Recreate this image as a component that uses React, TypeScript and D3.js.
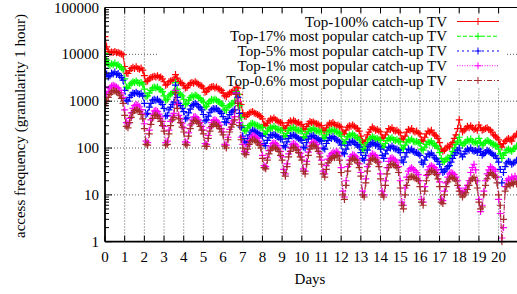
import React from "react";
import * as d3 from "d3";

const SAMPLE_STEP_HOURS = 2;
const DAY_TICKS = [0, 1, 2, 3, 4, 5, 6, 7, 8, 9, 10, 11, 12, 13, 14, 15, 16, 17, 18, 19, 20];
const Y_TICKS = [1, 10, 100, 1000, 10000, 100000];
const Y_TICK_LABELS = ["1", "10", "100", "1000", "10000", "100000"];

const SERIES_NAMES = [
  "Top-100% catch-up TV",
  "Top-17% most popular catch-up TV",
  "Top-5% most popular catch-up TV",
  "Top-1% most popular catch-up TV",
  "Top-0.6% most popular catch-up TV",
];

const TOP100 = [
  24000, 14500, 11500, 10800, 11200, 11000, 11500, 10800, 11000, 10500, 10200, 9800,
  5500, 4000, 3900, 4500, 5000, 5300, 5000, 5400, 5000, 4800, 5100, 4600,
  3500, 2600, 2700, 3000, 3200, 3300, 3400, 3300, 3500, 3200, 3300, 3000,
  2600, 2200, 2300, 2600, 2700, 2800, 2900, 3700, 3100, 2600, 2500, 2400,
  2200, 1900, 1950, 2200, 2400, 2500, 2400, 2600, 2450, 2300, 2200, 2100,
  1900, 1550, 1600, 1800, 1950, 2000, 2050, 1900, 2000, 1850, 1800, 1700,
  1500, 1300, 1250, 1400, 1500, 1550, 1600, 1700, 2000, 1900, 1400, 850,
  560, 480, 470, 520, 560, 580, 600, 560, 540, 520, 500, 470,
  420, 320, 300, 340, 380, 420, 400, 440, 400, 380, 360, 350,
  340, 270, 260, 300, 350, 380, 360, 390, 370, 340, 350, 320,
  320, 260, 250, 290, 330, 370, 350, 360, 340, 330, 320, 300,
  300, 240, 230, 270, 310, 340, 330, 350, 320, 300, 310, 290,
  280, 220, 200, 240, 280, 300, 290, 310, 290, 270, 260, 230,
  180, 140, 130, 150, 190, 220, 250, 280, 260, 240, 250, 230,
  220, 170, 160, 190, 220, 260, 250, 270, 240, 230, 240, 220,
  210, 160, 150, 180, 220, 250, 240, 260, 230, 220, 230, 210,
  200, 150, 140, 170, 200, 230, 220, 240, 210, 190, 180, 160,
  130, 95, 85, 90, 100, 110, 105, 120, 130, 160, 190, 260,
  400, 260, 220, 240, 260, 290, 270, 300, 270, 250, 260, 240,
  310, 270, 240, 250, 260, 270, 250, 240, 220, 190, 180, 165,
  150, 120, 105, 125, 140, 150, 160, 150, 140, 170, 180, 200,
];

const TOP17 = [
  10500, 7500, 6200, 5800, 6300, 6000, 6500, 5800, 6000, 5500, 5200, 4800,
  3000, 2000, 1900, 2200, 2400, 2600, 2500, 2700, 2500, 2400, 2500, 2300,
  1800, 1250, 1300, 1500, 1700, 1900, 2000, 1900, 2000, 1800, 1750, 1600,
  1300, 1050, 1100, 1300, 1400, 1500, 1600, 2500, 1800, 1500, 1400, 1300,
  1100, 850, 900, 1050, 1200, 1300, 1250, 1350, 1300, 1200, 1150, 1050,
  950, 750, 780, 900, 1000, 1100, 1050, 1100, 1050, 980, 950, 880,
  800, 650, 640, 750, 820, 880, 900, 1000, 1600, 1400, 800, 450,
  300, 240, 230, 270, 300, 330, 340, 320, 310, 300, 290, 270,
  275, 205, 195, 230, 255, 275, 265, 290, 265, 255, 250, 240,
  240, 185, 175, 205, 240, 265, 255, 275, 255, 240, 240, 230,
  230, 175, 165, 200, 230, 255, 240, 265, 240, 230, 230, 220,
  220, 165, 160, 190, 220, 240, 230, 245, 230, 220, 220, 205,
  180, 135, 125, 150, 175, 190, 185, 200, 185, 170, 165, 150,
  120, 95, 90, 110, 130, 150, 160, 175, 165, 155, 160, 150,
  145, 110, 105, 125, 145, 160, 155, 165, 150, 145, 150, 140,
  135, 100, 95, 115, 135, 150, 145, 155, 140, 135, 140, 130,
  125, 95, 90, 105, 120, 135, 130, 140, 125, 115, 110, 100,
  80, 60, 50, 52, 58, 62, 60, 70, 85, 100, 120, 140,
  170, 130, 115, 125, 135, 150, 140, 155, 140, 130, 135, 125,
  160, 130, 115, 125, 135, 145, 140, 130, 125, 120, 115, 110,
  95, 75, 60, 70, 80, 90, 95, 90, 85, 95, 100, 110,
];

const TOP5 = [
  5000, 3800, 3300, 3500, 4000, 3800, 4200, 3700, 3900, 3500, 3200, 2800,
  1700, 1050, 1000, 1200, 1350, 1500, 1450, 1550, 1450, 1400, 1450, 1300,
  900, 520, 550, 750, 900, 1050, 1100, 1050, 1100, 1000, 950, 850,
  700, 480, 500, 650, 750, 850, 950, 2200, 1200, 900, 800, 700,
  600, 420, 440, 560, 680, 800, 850, 900, 850, 780, 720, 650,
  520, 380, 400, 480, 580, 650, 700, 680, 700, 640, 600, 550,
  470, 360, 350, 430, 520, 580, 620, 650, 1500, 1200, 550, 280,
  180, 140, 130, 160, 190, 220, 240, 230, 220, 210, 200, 185,
  180, 125, 112, 145, 170, 190, 185, 195, 185, 175, 170, 155,
  155, 112, 105, 135, 160, 185, 180, 190, 180, 170, 160, 150,
  145, 105, 100, 130, 155, 180, 175, 185, 170, 160, 155, 145,
  140, 100, 95, 125, 145, 170, 160, 175, 160, 150, 145, 135,
  115, 80, 75, 95, 115, 135, 130, 140, 130, 120, 115, 105,
  80, 60, 55, 70, 90, 110, 120, 130, 125, 115, 120, 110,
  95, 70, 60, 75, 90, 105, 100, 110, 100, 95, 95, 90,
  80, 55, 50, 65, 80, 95, 90, 95, 85, 80, 80, 75,
  70, 50, 45, 55, 65, 75, 72, 78, 70, 62, 58, 52,
  45, 35, 30, 32, 36, 40, 42, 50, 60, 70, 80, 90,
  100, 75, 65, 75, 85, 95, 90, 100, 90, 85, 88, 80,
  95, 85, 70, 75, 80, 90, 85, 80, 75, 70, 68, 60,
  50, 35, 18, 30, 40, 48, 52, 50, 45, 48, 50, 55,
];

const TOP1 = [
  2000, 1400, 1600, 1900, 2100, 2200, 2100, 2000, 1900, 1700, 1500, 1200,
  650, 350, 330, 430, 560, 700, 800, 850, 820, 760, 660, 530,
  330, 140, 130, 240, 400, 530, 620, 640, 600, 530, 460, 370,
  290, 130, 140, 240, 370, 480, 550, 1700, 850, 500, 430, 340,
  270, 135, 130, 210, 310, 400, 460, 470, 440, 400, 350, 290,
  240, 125, 120, 185, 270, 350, 390, 400, 380, 350, 310, 260,
  220, 120, 115, 170, 250, 330, 380, 470, 1500, 1000, 350, 170,
  120, 85, 80, 110, 145, 170, 185, 180, 170, 160, 140, 120,
  70, 42, 40, 62, 88, 110, 125, 130, 125, 115, 100, 85,
  65, 35, 28, 46, 75, 100, 120, 125, 120, 110, 95, 78,
  65, 36, 32, 52, 82, 110, 130, 135, 130, 120, 100, 78,
  55, 32, 28, 42, 58, 68, 75, 80, 78, 85, 82, 68,
  38, 12, 9, 20, 40, 55, 66, 72, 70, 65, 58, 46,
  30, 12, 10, 22, 40, 56, 68, 75, 72, 68, 62, 50,
  28, 12, 10, 20, 38, 52, 60, 62, 58, 55, 50, 40,
  20, 7, 6, 14, 24, 32, 36, 38, 35, 33, 30, 27,
  20, 8, 7, 15, 26, 34, 40, 42, 40, 38, 34, 28,
  19, 8, 7.5, 12, 18, 24, 28, 30, 29, 27, 24, 20,
  14, 12, 11, 12, 14, 16, 20, 30, 38, 45, 34, 20,
  8, 4.4, 6, 12, 20, 28, 34, 40, 38, 35, 32, 24,
  8, 4, 1.2, 2, 15, 20, 22, 21, 24, 22, 25, 22,
];

const TOP06 = [
  800, 1000, 1200, 1400, 1550, 1700, 1650, 1600, 1500, 1350, 1150, 900,
  500, 290, 270, 350, 450, 560, 630, 660, 640, 600, 520, 420,
  260, 120, 115, 200, 320, 430, 500, 510, 480, 430, 370, 300,
  230, 115, 120, 200, 300, 400, 450, 1500, 700, 420, 350, 280,
  220, 120, 115, 180, 260, 330, 380, 390, 370, 340, 290, 240,
  200, 110, 108, 160, 230, 290, 320, 330, 310, 290, 260, 220,
  190, 110, 100, 150, 220, 280, 320, 400, 1400, 900, 300, 150,
  100, 75, 72, 95, 120, 140, 150, 148, 140, 130, 115, 100,
  60, 38, 36, 55, 75, 90, 100, 105, 100, 95, 85, 70,
  55, 30, 25, 40, 65, 85, 100, 105, 100, 90, 80, 65,
  55, 32, 28, 45, 70, 95, 110, 115, 110, 100, 85, 65,
  45, 28, 24, 35, 48, 55, 60, 65, 62, 70, 68, 55,
  30, 10, 8, 16, 32, 45, 55, 60, 58, 55, 48, 38,
  25, 10, 9, 18, 32, 45, 55, 60, 58, 55, 50, 40,
  22, 10, 9, 16, 28, 38, 44, 46, 44, 42, 38, 30,
  14, 6, 5, 10, 16, 21, 24, 25, 24, 23, 22, 20,
  15, 7, 6, 12, 20, 27, 31, 33, 32, 30, 27, 22,
  15, 7, 6.5, 10, 15, 19, 22, 24, 23, 22, 20, 16,
  12, 10, 9, 10, 11, 13, 16, 20, 22, 24, 20, 14,
  7, 5, 5.5, 10, 16, 22, 26, 30, 28, 26, 24, 18,
  10, 6, 1, 3, 12, 15, 17, 16, 18, 17, 19, 17,
];

const SERIES_VALUES = [TOP100, TOP17, TOP5, TOP1, TOP06];
const SERIES_COLORS = ["#ff0000", "#00ff00", "#0000ff", "#ff00ff", "#a52a2a"];
const SERIES_DASH = ["none", "4,2", "2,3", "1,1.5", "5,2,1,2"];

// ---------- layout ----------
const W = 517;
const H = 294;
const LEFT = 105;
const TOP = 7.5;
const BOTTOM = 241.7;
const PX_PER_DAY = 19.68;
const X_MAX = 21;
const RIGHT = LEFT + PX_PER_DAY * X_MAX;
const FONT = "'Liberation Serif', 'Times New Roman', Times, serif";

export default function App() {
  const x = d3.scaleLinear().domain([0, X_MAX]).range([LEFT, RIGHT]);
  const y = d3.scaleLog().domain([1, 100000]).range([BOTTOM, TOP]);

  const minorTicks: number[] = [];
  for (let e = 0; e < 5; e++) {
    for (let m = 2; m <= 9; m++) minorTicks.push(m * Math.pow(10, e));
  }

  const line = d3
    .line<number>()
    .x((_, i) => x((i * SAMPLE_STEP_HOURS) / 24))
    .y((v) => y(v));

  const markerPath = (vals: number[]) =>
    vals
      .map((v, i) => {
        const px = x((i * SAMPLE_STEP_HOURS) / 24);
        const py = y(v);
        return `M${px - 3.5},${py}H${px + 3.5}M${px},${py - 3.5}V${py + 3.5}`;
      })
      .join("");

  const legendRight = 447;
  const legendY0 = 21.5;
  const legendDy = 14.75;

  return (
    <svg
      width={W}
      height={H}
      style={{ position: "absolute", left: 0, top: 0, background: "#fff" }}
      fontFamily={FONT}
    >
      <defs>
        <clipPath id="plotclip">
          <rect x={LEFT} y={TOP} width={RIGHT - LEFT} height={BOTTOM - TOP + 4} />
        </clipPath>
      </defs>
      <rect x={0} y={0} width={W} height={H} fill="#fff" />

      {/* grid */}
      <g stroke="#000" strokeWidth={0.8} strokeDasharray="1,2" opacity={0.8}>
        {DAY_TICKS.filter((d) => d > 0).map((d) => (
          <line key={"gx" + d} x1={x(d)} x2={x(d)} y1={TOP} y2={BOTTOM} />
        ))}
        {Y_TICKS.filter((t) => t > 1 && t < 100000).map((t) => (
          <line key={"gy" + t} x1={LEFT} x2={RIGHT} y1={y(t)} y2={y(t)} />
        ))}
      </g>

      {/* legend background (hides grid) */}
      <rect x={157} y={12} width={348} height={76} fill="#fff" />

      {/* data */}
      <g clipPath="url(#plotclip)" fill="none">
        {SERIES_VALUES.map((vals, s) => (
          <g key={"s" + s} stroke={SERIES_COLORS[s]}>
            <path
              d={line(vals) || ""}
              strokeWidth={1}
              strokeDasharray={SERIES_DASH[s]}
            />
            <path d={markerPath(vals)} strokeWidth={1.2} />
          </g>
        ))}
      </g>

      {/* border */}
      <g stroke="#000" fill="none">
        <line x1={LEFT} x2={LEFT} y1={TOP} y2={BOTTOM} strokeWidth={1.8} />
        <line x1={LEFT} x2={RIGHT} y1={BOTTOM} y2={BOTTOM} strokeWidth={1.8} />
        <line x1={LEFT} x2={RIGHT} y1={TOP} y2={TOP} strokeWidth={1.2} />
        <line x1={RIGHT} x2={RIGHT} y1={TOP} y2={BOTTOM} strokeWidth={1.2} />
      </g>

      {/* ticks */}
      <g stroke="#000" strokeWidth={1}>
        {DAY_TICKS.map((d) => (
          <g key={"tx" + d}>
            <line x1={x(d)} x2={x(d)} y1={BOTTOM} y2={BOTTOM - 6} />
            <line x1={x(d)} x2={x(d)} y1={TOP} y2={TOP + 6} />
          </g>
        ))}
        {Y_TICKS.map((t) => (
          <line key={"ty" + t} x1={LEFT} x2={LEFT + 7} y1={y(t)} y2={y(t)} />
        ))}
        {minorTicks.map((t) => (
          <line key={"tm" + t} x1={LEFT} x2={LEFT + 4} y1={y(t)} y2={y(t)} />
        ))}
      </g>

      {/* tick labels */}
      <g fontSize={15} fill="#000">
        {DAY_TICKS.map((d) => (
          <text key={"lx" + d} x={x(d)} y={262} textAnchor="middle">
            {d}
          </text>
        ))}
        {Y_TICKS.map((t, i) => (
          <text key={"ly" + t} x={99} y={y(t) + 5} textAnchor="end">
            {Y_TICK_LABELS[i]}
          </text>
        ))}
      </g>

      {/* axis titles */}
      <text x={310} y={284} fontSize={15} textAnchor="middle" fill="#000">
        Days
      </text>
      <text
        transform="translate(25,126) rotate(-90)"
        fontSize={15}
        textAnchor="middle"
        fill="#000"
      >
        access frequency (granularity 1 hour)
      </text>

      {/* legend */}
      <g fontSize={15}>
        {SERIES_NAMES.map((name, s) => {
          const ly = legendY0 + s * legendDy;
          return (
            <g key={"lg" + s}>
              <text x={legendRight} y={ly + 5} textAnchor="end" fill="#000">
                {name}
              </text>
              <line
                x1={457}
                x2={499}
                y1={ly}
                y2={ly}
                stroke={SERIES_COLORS[s]}
                strokeWidth={1}
                strokeDasharray={SERIES_DASH[s]}
              />
              <path
                d={`M${478 - 3.5},${ly}H${478 + 3.5}M478,${ly - 3.5}V${ly + 3.5}`}
                stroke={SERIES_COLORS[s]}
                strokeWidth={1}
              />
            </g>
          );
        })}
      </g>
    </svg>
  );
}
